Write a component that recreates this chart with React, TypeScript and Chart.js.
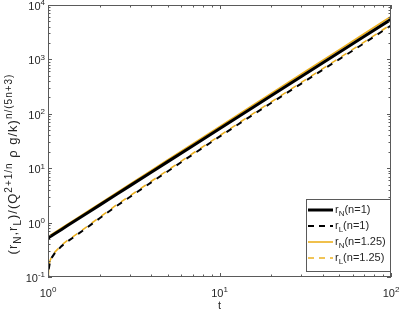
import React, { useEffect, useRef } from "react";
import { Chart, registerables } from "chart.js";
Chart.register(...registerables);

const tValues = [1, 1.003, 1.01, 1.027, 1.05, 1.1, 1.2, 1.3, 1.5, 1.75, 2, 2.5, 3, 4, 5, 7, 10, 15, 20, 30, 50, 70, 100];
const rN_n1 = [0.52, 0.523, 0.53, 0.548, 0.573, 0.63, 0.75, 0.881, 1.175, 1.601, 2.094, 3.28, 4.732, 8.436, 13.21, 25.98, 53.21, 120.2, 214.2, 483.8, 1352, 2660, 5445];
const rL_n1 = [0.03, 0.09, 0.14, 0.19, 0.225, 0.28, 0.37, 0.45, 0.62, 0.88, 1.2, 2.0, 2.95, 5.5, 8.8, 18, 38, 88, 158, 360, 1010, 2000, 4200];
const rN_n125 = [0.55, 0.553, 0.561, 0.58, 0.606, 0.667, 0.796, 0.936, 1.25, 1.708, 2.238, 3.517, 5.088, 9.111, 14.32, 28.29, 58.25, 132.4, 237.1, 539, 1516, 2995, 6171];
const rL_n125 = [0.03, 0.1, 0.15, 0.2, 0.235, 0.29, 0.385, 0.47, 0.645, 0.92, 1.25, 2.1, 3.1, 5.75, 9.2, 18.8, 39.5, 92, 165, 378, 1060, 2100, 4400];

const xMajorExponents = [0, 1, 2];
const yMajorExponents = [-1, 0, 1, 2, 3, 4];

const BLACK = "#000000";
const ORANGE = "#EDB120";
const TEXT = "#262626";
const AXIS = "#5a5a5a";
const FONT = "'Liberation Sans', Arial, Helvetica, sans-serif";

type Part = { t: string; k?: "sup" | "sub" };

function partFont(p: Part, base: number, small: number) {
  return `${p.k ? small : base}px ${FONT}`;
}

function richWidth(ctx: CanvasRenderingContext2D, parts: Part[], base: number, small: number) {
  let w = 0;
  for (const p of parts) {
    ctx.font = partFont(p, base, small);
    w += ctx.measureText(p.t).width;
  }
  return w;
}

function drawRich(
  ctx: CanvasRenderingContext2D,
  parts: Part[],
  x: number,
  y: number,
  align: "left" | "center" | "right",
  base: number,
  small: number
) {
  const w = richWidth(ctx, parts, base, small);
  let cx = align === "left" ? x : align === "center" ? x - w / 2 : x - w;
  ctx.textAlign = "left";
  ctx.textBaseline = "alphabetic";
  for (const p of parts) {
    ctx.font = partFont(p, base, small);
    const dy = p.k === "sup" ? -base * 0.42 : p.k === "sub" ? base * 0.3 : 0;
    ctx.fillText(p.t, cx, y + dy);
    cx += ctx.measureText(p.t).width;
  }
}

const framePlugin = {
  id: "frame",
  afterDatasetsDraw(chart: any) {
    const ctx: CanvasRenderingContext2D = chart.ctx;
    const a = chart.chartArea;
    const xs = chart.scales.x;
    const ys = chart.scales.y;
    ctx.save();
    ctx.strokeStyle = AXIS;
    ctx.lineWidth = 1;
    ctx.strokeRect(Math.round(a.left) + 0.5, Math.round(a.top) + 0.5, Math.round(a.right - a.left) - 1, Math.round(a.bottom - a.top) - 1);

    const majLen = 4;
    const minLen = 2.5;
    for (let e = xMajorExponents[0]; e <= xMajorExponents[xMajorExponents.length - 1]; e++) {
      for (let m = 1; m <= 9; m++) {
        const v = m * Math.pow(10, e);
        if (v > xs.max) break;
        const px = Math.round(xs.getPixelForValue(v)) + 0.5;
        const len = m === 1 ? majLen : minLen;
        ctx.beginPath();
        ctx.moveTo(px, a.bottom);
        ctx.lineTo(px, a.bottom - len);
        ctx.moveTo(px, a.top);
        ctx.lineTo(px, a.top + len);
        ctx.stroke();
      }
    }
    for (let e = yMajorExponents[0]; e <= yMajorExponents[yMajorExponents.length - 1]; e++) {
      for (let m = 1; m <= 9; m++) {
        const v = m * Math.pow(10, e);
        if (v > ys.max * 1.0001) break;
        const py = Math.round(ys.getPixelForValue(v)) + 0.5;
        const len = m === 1 ? majLen : minLen;
        ctx.beginPath();
        ctx.moveTo(a.left, py);
        ctx.lineTo(a.left + len, py);
        ctx.moveTo(a.right, py);
        ctx.lineTo(a.right - len, py);
        ctx.stroke();
      }
    }

    ctx.fillStyle = TEXT;
    for (const e of xMajorExponents) {
      const px = xs.getPixelForValue(Math.pow(10, e));
      drawRich(ctx, [{ t: "10" }, { t: String(e), k: "sup" }], px, a.bottom + 20, "center", 11, 8);
    }
    for (const e of yMajorExponents) {
      const py = ys.getPixelForValue(Math.pow(10, e));
      drawRich(ctx, [{ t: "10" }, { t: String(e), k: "sup" }], a.left - 3, py + 5, "right", 11, 8);
    }
    ctx.font = `11px ${FONT}`;
    ctx.textAlign = "center";
    ctx.fillText("t", (a.left + a.right) / 2, a.bottom + 32);

    // y title
    ctx.save();
    ctx.translate(17, 164);
    ctx.rotate(-Math.PI / 2);
    (ctx as any).letterSpacing = "1px";
    drawRich(
      ctx,
      [
        { t: "(r" },
        { t: "N", k: "sub" },
        { t: ",r" },
        { t: "L", k: "sub" },
        { t: ")/(Q" },
        { t: "2+1/n", k: "sup" },
        { t: " \u03C1 g/k)" },
        { t: "n/(5n+3)", k: "sup" },
      ],
      0,
      0,
      "center",
      13,
      10
    );
    (ctx as any).letterSpacing = "0px";
    ctx.restore();

    // legend
    const lx = 306.5, ly = 199.5, lw = 84, lh = 72;
    ctx.fillStyle = "#ffffff";
    ctx.fillRect(lx, ly, lw, lh);
    ctx.strokeStyle = AXIS;
    ctx.lineWidth = 1;
    ctx.strokeRect(lx, ly, lw, lh);
    const entries = [
      { sub: "N", n: "1", color: BLACK, width: 3, dash: [] as number[] },
      { sub: "L", n: "1", color: BLACK, width: 2, dash: [6, 5] },
      { sub: "N", n: "1.25", color: ORANGE, width: 1.6, dash: [] as number[] },
      { sub: "L", n: "1.25", color: ORANGE, width: 1.6, dash: [6, 5] },
    ];
    entries.forEach((en, i) => {
      const yy = 210 + i * 16;
      ctx.beginPath();
      ctx.strokeStyle = en.color;
      ctx.lineWidth = en.width;
      ctx.setLineDash(en.dash);
      ctx.moveTo(308, yy);
      ctx.lineTo(333, yy);
      ctx.stroke();
      ctx.setLineDash([]);
      ctx.fillStyle = TEXT;
      drawRich(ctx, [{ t: "r" }, { t: en.sub, k: "sub" }, { t: `(n=${en.n})` }], 335, yy + 3, "left", 11, 8);
    });
    ctx.restore();
  },
};

function pts(ys: number[]) {
  return tValues.map((t, i) => ({ x: t, y: ys[i] }));
}

export default function App() {
  const ref = useRef<HTMLCanvasElement | null>(null);
  useEffect(() => {
    document.body.style.margin = "0";
    const canvas = ref.current!;
    const chart = new Chart(canvas, {
      type: "line",
      data: {
        datasets: [
          { label: "rN(n=1)", data: pts(rN_n1), borderColor: BLACK, borderWidth: 3, pointRadius: 0, tension: 0 },
          { label: "rL(n=1)", data: pts(rL_n1), borderColor: BLACK, borderWidth: 2, borderDash: [6, 6], pointRadius: 0, tension: 0 },
          { label: "rN(n=1.25)", data: pts(rN_n125), borderColor: ORANGE, borderWidth: 1.6, pointRadius: 0, tension: 0 },
          { label: "rL(n=1.25)", data: pts(rL_n125), borderColor: ORANGE, borderWidth: 1.6, borderDash: [6, 6], borderDashOffset: 6, pointRadius: 0, tension: 0 },
        ],
      },
      options: {
        animation: false,
        responsive: false,
        devicePixelRatio: 1,
        layout: { padding: { left: 48, right: 9, top: 5, bottom: 34 } },
        plugins: { legend: { display: false }, tooltip: { enabled: false } },
        scales: {
          x: { type: "logarithmic", min: 1, max: 100, display: false },
          y: { type: "logarithmic", min: 0.1, max: 10000, display: false },
        },
      },
      plugins: [framePlugin],
    });
    return () => chart.destroy();
  }, []);
  return (
    <div style={{ position: "absolute", left: 0, top: 0, width: 400, height: 311, background: "#fff" }}>
      <canvas ref={ref} width={400} height={311} />
    </div>
  );
}
